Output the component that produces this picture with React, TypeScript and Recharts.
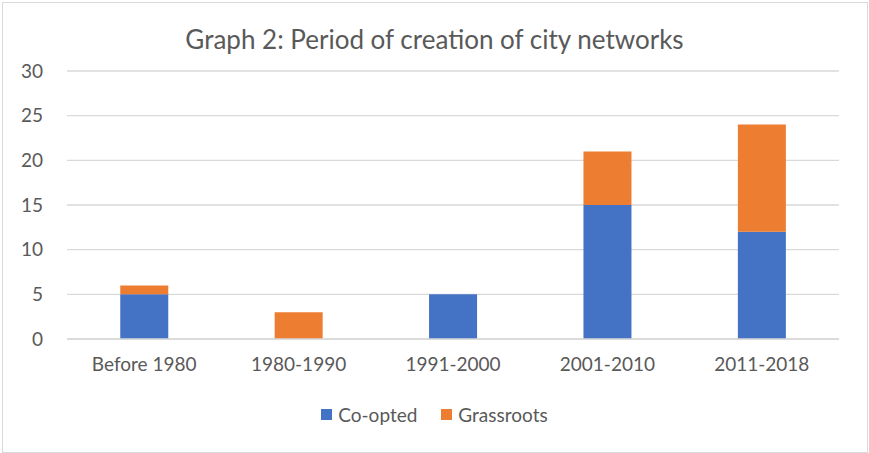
import React from 'react';
import { Bar, BarChart, CartesianGrid, Legend, XAxis, YAxis } from 'recharts';

const periods = ['Before 1980', '1980-1990', '1991-2000', '2001-2010', '2011-2018'];
const coopted = [5, 0, 5, 15, 12];
const grassroots = [1, 3, 0, 6, 12];
const yTicks = [0, 5, 10, 15, 20, 25, 30];

const data = periods.map((p, i) => ({
  period: p,
  coopted: coopted[i],
  grassroots: grassroots[i],
}));

const FONT = 'Lato, "Open Sans", sans-serif';
const TEXT = '#595959';

const renderLegend = (props: any) => {
  const { payload = [] } = props;
  return (
    <div style={{ display: 'flex', justifyContent: 'center', alignItems: 'center', fontSize: 19, fontFamily: FONT, color: TEXT }}>
      {payload.map((entry: any, i: number) => (
        <div key={`legend-${i}`} style={{ display: 'flex', alignItems: 'center', marginRight: i < payload.length - 1 ? 24 : 0 }}>
          <span style={{ width: 11, height: 11, background: entry.color, marginRight: 6, display: 'inline-block' }} />
          <span>{entry.value}</span>
        </div>
      ))}
    </div>
  );
};

const App: React.FC = () => {
  return (
    <div style={{ position: 'absolute', left: 0, top: 0, width: 869, height: 453, background: '#fff', fontFamily: FONT }}>
      <style>{'body{margin:0}'}</style>
      <div
        style={{
          position: 'absolute',
          left: 2,
          top: 2,
          width: 866,
          height: 451,
          boxSizing: 'border-box',
          border: '1px solid #d9d9d9',
        }}
      />
      <div
        style={{
          position: 'absolute',
          left: 0,
          top: 23,
          width: 869,
          textAlign: 'center',
          fontSize: 26,
          lineHeight: '32px',
          color: TEXT,
        }}
      >
        Graph 2: Period of creation of city networks
      </div>
      <div style={{ position: 'absolute', left: 0, top: 0 }}>
        <BarChart
          width={869}
          height={453}
          data={data}
          margin={{ top: 71, right: 30, left: 0, bottom: 51 }}
          barCategoryGap="34.5%"
        >
          <CartesianGrid vertical={false} stroke="#d9d9d9" strokeWidth={1.3} />
          <XAxis
            dataKey="period"
            tickLine={false}
            axisLine={{ stroke: '#d9d9d9', strokeWidth: 1.3 }}
            tick={{ fill: TEXT, fontSize: 19, fontFamily: FONT }}
            tickMargin={13}
            height={40}
          />
          <YAxis
            width={67}
            domain={[0, 30]}
            ticks={yTicks}
            tickLine={false}
            axisLine={false}
            tick={{ fill: TEXT, fontSize: 19, fontFamily: FONT }}
            tickMargin={18}
          />
          <Legend
            content={renderLegend}
            wrapperStyle={{ top: 403, bottom: 'auto', left: 0, width: 869 }}
          />
          <Bar dataKey="coopted" name="Co-opted" stackId="a" fill="#4472C4" isAnimationActive={false} />
          <Bar dataKey="grassroots" name="Grassroots" stackId="a" fill="#ED7D31" isAnimationActive={false} />
        </BarChart>
      </div>
    </div>
  );
};

export default App;
